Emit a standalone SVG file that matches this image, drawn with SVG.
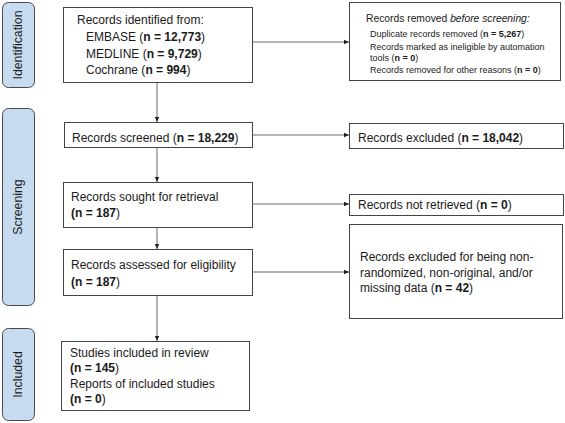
<svg xmlns="http://www.w3.org/2000/svg" width="565" height="423" viewBox="0 0 565 423">
<defs>
<marker id="arr" markerWidth="6" markerHeight="6" refX="5" refY="3" orient="auto" markerUnits="userSpaceOnUse">
<path d="M0,0.8 L5,3 L0,5.2 Z" fill="#222"/>
</marker>
<style>
text{font-family:"Liberation Sans",Arial,sans-serif;fill:#1a1a1a;font-size:12px}
.b{font-weight:bold}
.sm{font-size:9px}
.hd{font-size:10.3px}
.box{fill:#fff;stroke:#444;stroke-width:1}
.bar{fill:#c6daf0;stroke:#4a4a4a;stroke-width:1}
.lab{font-size:12.3px;text-anchor:middle}
.con{stroke:#6a6a6a;stroke-width:1;fill:none;marker-end:url(#arr)}
</style>
</defs>
<rect width="565" height="423" fill="#fff"/>
<g id="phase-identification">
<rect class="bar" x="2.5" y="2.5" width="32" height="85" rx="6"/>
<text class="lab" transform="translate(22,45) rotate(-90)">Identification</text>
</g>
<g id="phase-screening">
<rect class="bar" x="2.5" y="108.5" width="32" height="197" rx="6"/>
<text class="lab" transform="translate(22,207) rotate(-90)">Screening</text>
</g>
<g id="phase-included">
<rect class="bar" x="2.5" y="328.5" width="32" height="92" rx="6"/>
<text class="lab" transform="translate(22,374.5) rotate(-90)">Included</text>
</g>
<g id="connectors">
<line class="con" x1="157" y1="82" x2="157" y2="122"/>
<line class="con" x1="157" y1="147" x2="157" y2="182"/>
<line class="con" x1="157" y1="227" x2="157" y2="249"/>
<line class="con" x1="157" y1="295" x2="157" y2="341"/>
<line class="con" x1="252" y1="42" x2="349" y2="42"/>
<line class="con" x1="253" y1="135" x2="349" y2="135"/>
<line class="con" x1="252" y1="204" x2="349" y2="204"/>
<line class="con" x1="253" y1="272" x2="349" y2="272"/>
</g>
<g id="node-identified">
<rect class="box" x="63.5" y="7.5" width="189" height="75"/>
<text x="77" y="24">Records identified from:</text>
<text x="86" y="41">EMBASE (<tspan class="b">n = 12,773</tspan>)</text>
<text x="86" y="57.5">MEDLINE (<tspan class="b">n = 9,729</tspan>)</text>
<text x="86" y="74">Cochrane (<tspan class="b">n = 994</tspan>)</text>
</g>
<g id="node-removed">
<rect class="box" x="349.5" y="2.5" width="211" height="78"/>
<text class="hd" x="366" y="22">Records removed <tspan font-style="italic">before screening:</tspan></text>
<text class="sm" x="370" y="37">Duplicate records removed (<tspan class="b">n = 5,267</tspan>)</text>
<text class="sm" x="370" y="49.5">Records marked as ineligible by automation</text>
<text class="sm" x="370" y="61">tools (<tspan class="b">n = 0</tspan>)</text>
<text class="sm" x="370" y="73">Records removed for other reasons (<tspan class="b">n = 0</tspan>)</text>
</g>
<g id="node-screened">
<rect class="box" x="64.5" y="122.5" width="188" height="25"/>
<text x="72" y="142">Records screened (<tspan class="b">n = 18,229</tspan>)</text>
</g>
<g id="node-excluded">
<rect class="box" x="349.5" y="123.5" width="214" height="25"/>
<text x="358" y="142">Records excluded (<tspan class="b">n = 18,042</tspan>)</text>
</g>
<g id="node-sought">
<rect class="box" x="63.5" y="182.5" width="189" height="45"/>
<text x="71" y="201">Records sought for retrieval</text>
<text x="71" y="216.5"><tspan class="b">(n = 187</tspan>)</text>
</g>
<g id="node-not-retrieved">
<rect class="box" x="349.5" y="194.5" width="214" height="21"/>
<text x="358" y="209">Records not retrieved (<tspan class="b">n = 0</tspan>)</text>
</g>
<g id="node-assessed">
<rect class="box" x="63.5" y="249.5" width="189" height="46"/>
<text x="71" y="269">Records assessed for eligibility</text>
<text x="71" y="286"><tspan class="b">(n = 187</tspan>)</text>
</g>
<g id="node-excluded-eligibility">
<rect class="box" x="349.5" y="224.5" width="213" height="94"/>
<text x="360" y="261">Records excluded for being non-</text>
<text x="360" y="276.5">randomized, non-original, and/or</text>
<text x="360" y="292">missing data (<tspan class="b">n = 42</tspan>)</text>
</g>
<g id="node-included">
<rect class="box" x="61.5" y="341.5" width="188" height="69"/>
<text x="70" y="356.5">Studies included in review</text>
<text x="70" y="372"><tspan class="b">(n = 145</tspan>)</text>
<text x="70" y="387.5">Reports of included studies</text>
<text x="70" y="403"><tspan class="b">(n = 0</tspan>)</text>
</g>
</svg>
